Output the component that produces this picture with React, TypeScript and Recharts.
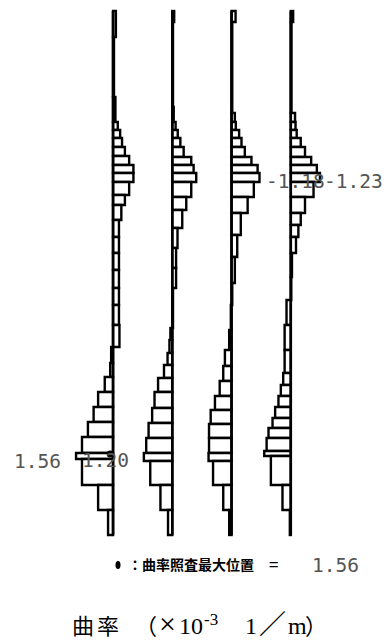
import { ComposedChart, XAxis, YAxis, ReferenceArea, ReferenceLine, Scatter } from 'recharts';

// depth boundaries (top -> bottom) and curvature per segment, one pair per column
const depth1 = [11, 37, 97, 122, 130, 138, 147, 156, 165, 173, 182, 195, 205, 220, 237, 253, 270, 288, 305, 325, 347, 363, 377, 392, 407, 422, 437, 453, 459, 485, 510, 535];
const curv1 = [-0.12, -0.04, -0.1, -0.2, -0.3, -0.38, -0.5, -0.68, -0.86, -0.86, -0.68, -0.5, -0.35, -0.25, -0.25, -0.25, -0.25, -0.25, -0.25, -0.27, 0.08, 0.12, 0.35, 0.63, 0.82, 1.06, 1.31, 1.56, 1.31, 0.63, 0.21];

const depth2 = [11, 22, 107, 122, 130, 138, 147, 157, 165, 173, 182, 197, 210, 228, 248, 268, 288, 328, 340, 353, 365, 378, 392, 408, 423, 438, 453, 461, 485, 510, 535];
const curv2 = [-0.08, -0.03, -0.06, -0.14, -0.23, -0.34, -0.48, -0.8, -0.9, -1.01, -0.8, -0.59, -0.42, -0.22, -0.16, -0.16, -0.03, 0.08, 0.12, 0.2, 0.35, 0.6, 0.75, 0.85, 1.0, 1.1, 1.2, 0.93, 0.5, 0.18];

const depth3 = [11, 22, 113, 122, 130, 138, 147, 157, 165, 173, 182, 197, 213, 235, 257, 283, 305, 330, 350, 366, 381, 396, 410, 424, 438, 453, 461, 485, 510, 535];
const curv3 = [-0.17, -0.03, -0.14, -0.18, -0.32, -0.42, -0.56, -0.84, -1.1, -1.18, -0.94, -0.68, -0.39, -0.24, -0.14, -0.03, 0.03, 0.1, 0.28, 0.35, 0.5, 0.7, 0.88, 0.95, 0.95, 0.97, 0.78, 0.35, 0.1];

const depth4 = [11, 22, 113, 122, 130, 138, 147, 157, 165, 173, 182, 197, 213, 225, 237, 253, 277, 300, 325, 350, 373, 385, 396, 407, 418, 428, 438, 451, 456, 485, 510, 535];
const curv4 = [-0.1, -0.03, -0.18, -0.2, -0.25, -0.42, -0.6, -0.86, -1.1, -1.23, -0.96, -0.6, -0.42, -0.32, -0.22, -0.05, -0.02, 0.18, 0.26, 0.26, 0.32, 0.42, 0.52, 0.66, 0.77, 0.94, 1.02, 1.12, 0.84, 0.35, 0.04];

const columns = [
  { depth: depth1, curv: curv1 },
  { depth: depth2, curv: curv2 },
  { depth: depth3, curv: curv3 },
  { depth: depth4, curv: curv4 },
];

// baseline of each column on the curvature axis
const offsets = [0, 2.5, 5, 7.5];

const maxPoint = [{ x: -0.12, y: 454 }];
const maxValue = '1.56';
const peakTexts = ['1.56', '1.20', '-1.18', '-1.23'];

const mono = "'DejaVu Sans Mono', monospace";
const cjk = "'Noto Sans CJK JP', sans-serif";
const serif = "'Liberation Serif', serif";

export default function App() {
  return (
    <div style={{ position: 'absolute', left: 0, top: 0, width: 387, height: 642, background: '#fff' }}>
      <ComposedChart width={387} height={545} margin={{ top: 0, right: 0, bottom: 0, left: 0 }}>
        <XAxis type="number" dataKey="x" domain={[-4.77, 11.56]} allowDataOverflow hide />
        <YAxis type="number" dataKey="y" domain={[0, 545]} reversed allowDataOverflow hide />
        {columns.map((col, ci) =>
          col.curv.map((v, i) => {
            const off = offsets[ci];
            return (
              <ReferenceArea
                key={`r${ci}-${i}`}
                x1={Math.min(off, off - v)}
                x2={Math.max(off, off - v)}
                y1={col.depth[i]}
                y2={col.depth[i + 1]}
                fill="#fff"
                fillOpacity={1}
                stroke="#000"
                strokeWidth={2.4}
                ifOverflow="visible"
              />
            );
          })
        )}
        {offsets.map((off, ci) => (
          <ReferenceLine
            key={`b${ci}`}
            segment={[
              { x: off, y: columns[ci].depth[0] },
              { x: off, y: columns[ci].depth[columns[ci].depth.length - 1] },
            ]}
            stroke="#000"
            strokeWidth={2.6}
            ifOverflow="visible"
          />
        ))}
        <Scatter data={maxPoint} fill="#000" isAnimationActive={false} shape={(p: any) => <circle cx={p.cx} cy={p.cy} r={3.5} fill="#000" />} />
      </ComposedChart>

      <svg width={387} height={642} style={{ position: 'absolute', left: 0, top: 0, pointerEvents: 'none' }}>
        <g fontFamily={mono} fontSize={19.5} fill="#555">
          <text x={14} y={468}>{peakTexts[0]}</text>
          <text x={82} y={467}>{peakTexts[1]}</text>
          <text x={266} y={188}>{peakTexts[2]}</text>
          <text x={324} y={188}>{peakTexts[3]}</text>
        </g>

        <ellipse cx={118} cy={565} rx={2.5} ry={4} fill="#000" />
        <text x={128} y={570} fontFamily={cjk} fontWeight={700} fontSize={14}>：曲率照査最大位置</text>
        <text x={269} y={571} fontFamily={cjk} fontSize={17}>=</text>
        <text x={312} y={572} fontFamily={mono} fontSize={19.5} fill="#555">{maxValue}</text>

        <text y={634} fontSize={24}>
          <tspan x={72} fontFamily={cjk} fontSize={22} letterSpacing={3}>曲率</tspan>
          <tspan x={135} fontFamily={cjk} fontSize={22}>（</tspan>
          <tspan x={159} fontFamily={serif} fontSize={30}>×</tspan>
          <tspan x={179} fontFamily={serif}>10</tspan>
          <tspan x={204} dy={-9} fontFamily={serif} fontSize={17}>-3</tspan>
          <tspan x={245} dy={9} fontFamily={serif}>1</tspan>
          <tspan x={259} fontFamily={cjk} fontSize={27}>／</tspan>
          <tspan x={288} fontFamily={serif}>m</tspan>
          <tspan x={305} fontFamily={cjk} fontSize={22}>）</tspan>
        </text>
      </svg>
    </div>
  );
}
